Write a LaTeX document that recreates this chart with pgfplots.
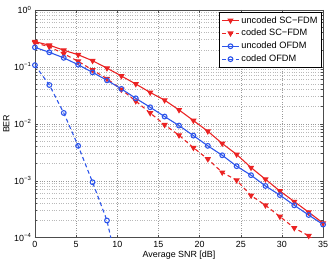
\documentclass[border=0pt]{standalone}
\usepackage{fontspec}
\setmainfont{Liberation Sans}
\usepackage{pgfplots}
\pgfplotsset{compat=1.18}
\definecolor{mred}{RGB}{235,35,35}
\definecolor{mblue}{RGB}{45,85,235}
\begin{document}
\begin{tikzpicture}
\begin{axis}[
  scale only axis, width=291pt, height=230pt,
  ymode=log, xmin=0, xmax=35, ymin=1e-4, ymax=1,
  xtick={0,5,...,35},
  ytick={1e-4,1e-3,1e-2,1e-1,1},
  yticklabels={10\textsuperscript{−4},10\textsuperscript{−3},10\textsuperscript{−2},10\textsuperscript{−1},10\textsuperscript{0}},
  font=\fontsize{9}{10}\selectfont,
  /pgf/number format/assume math mode=true,
  xlabel={Average SNR [dB]}, ylabel={BER},
  xlabel style={yshift=3pt}, ylabel style={yshift=-2pt},
  grid=both,
  major grid style={dotted, gray!80},
  minor grid style={dotted, gray!55},
  minor x tick num=0,
  tick align=inside, major tick length=3pt, minor tick length=2pt,
  axis line style={black!70, line width=0.8pt},
  every tick/.style={black!70},
  legend style={at={(0.995,0.99)}, anchor=north east, draw=black, fill=white,
    font=\fontsize{9.3}{10}\selectfont, row sep=0.8pt, inner sep=2pt},
  legend cell align=left,
]
\addplot[mred, line width=1.1pt, mark=triangle*, mark options={rotate=180, solid, fill=mred, scale=1.3}] coordinates {
(0,0.277)(1.75,0.24)(3.5,0.196)(5.25,0.163)(7,0.128)(8.75,0.095)(10.5,0.069)(12.25,0.050)(14,0.0355)(15.75,0.026)(17.5,0.0175)(19.25,0.0114)(21,0.0074)(22.75,0.0045)(24.5,0.0029)(26.25,0.0017)(28,0.00106)(29.75,0.00066)(31.5,0.00043)(33.25,0.00028)(35,0.00018)};
\addlegendentry{uncoded SC−FDM}
\addplot[mred, line width=1.1pt, dash pattern=on 4pt off 3pt, mark=triangle*, mark options={rotate=180, solid, fill=mred, scale=1.3}] coordinates {
(0,0.265)(1.75,0.225)(3.5,0.17)(5.25,0.125)(7,0.088)(8.75,0.062)(10.5,0.04)(12.25,0.025)(14,0.0155)(15.75,0.0096)(17.5,0.0063)(19.25,0.0038)(21,0.0024)(22.75,0.0014)(24.5,0.00102)(26.25,0.00055)(28,0.00037)(29.75,0.000235)(31.5,0.000148)(33.25,0.000108)(35,0.000065)};
\addlegendentry{coded SC−FDM}
\addplot[mblue, line width=1.1pt, mark=o, mark options={solid, fill=mblue!30, scale=1.2}] coordinates {
(0,0.22)(1.75,0.18)(3.5,0.144)(5.25,0.109)(7,0.080)(8.75,0.058)(10.5,0.041)(12.25,0.028)(14,0.0195)(15.75,0.0134)(17.5,0.0093)(19.25,0.0062)(21,0.0041)(22.75,0.0028)(24.5,0.0018)(26.25,0.00125)(28,0.00081)(29.75,0.00056)(31.5,0.00037)(33.25,0.00025)(35,0.00017)};
\addlegendentry{uncoded OFDM}
\addplot[mblue, line width=1.1pt, dash pattern=on 4pt off 3pt, mark=o, mark options={solid, fill=mblue!30, scale=1.2}] coordinates {
(0,0.107)(1.75,0.048)(3.5,0.0155)(5.25,0.0041)(7,0.00094)(8.75,0.0002)(10.5,0.000015)};
\addlegendentry{coded OFDM}
\end{axis}
\path (current axis.south west) ++(-32pt,-23pt) coordinate (bbsw);
\path (current axis.north east) ++(9pt,10pt) coordinate (bbne);
\path (bbsw) rectangle (bbne);
\end{tikzpicture}
\end{document}
